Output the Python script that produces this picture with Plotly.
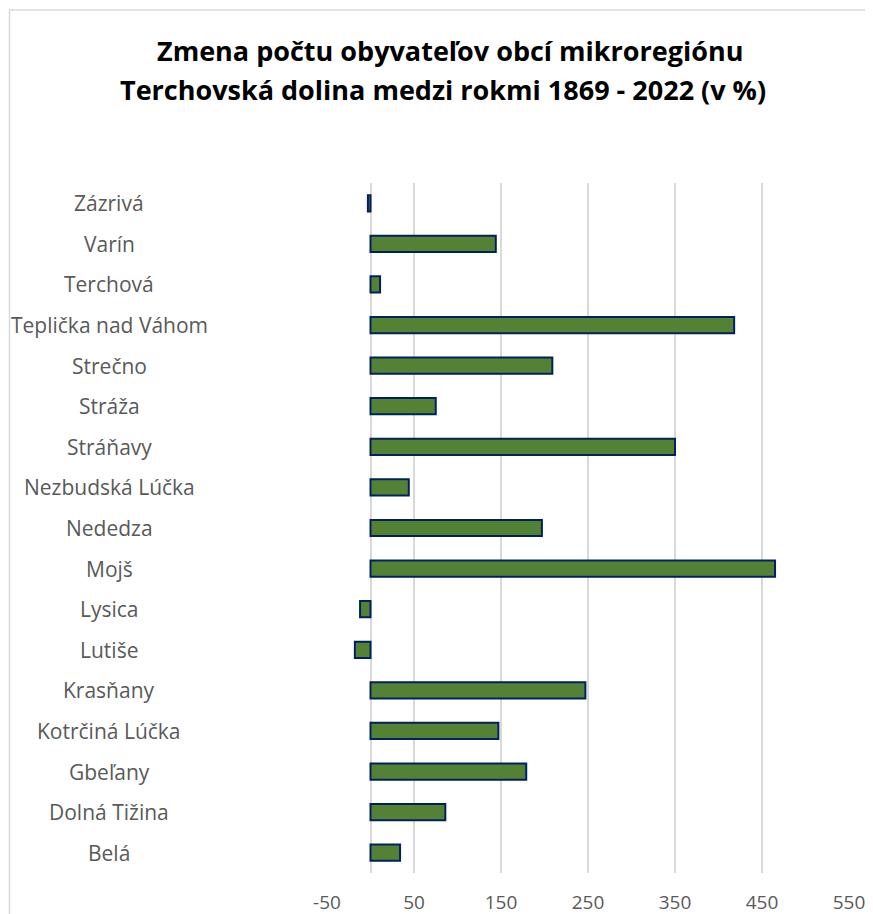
import plotly.graph_objects as go

categories = ["Zázrivá", "Varín", "Terchová", "Teplička nad Váhom", "Strečno", "Stráža",
              "Stráňavy", "Nezbudská Lúčka", "Nededza", "Mojš", "Lysica", "Lutiše",
              "Krasňany", "Kotrčiná Lúčka", "Gbeľany", "Dolná Tižina", "Belá"]
values = [-3, 144, 11, 418, 209, 75, 350, 44, 197, 465, -12, -18, 247, 147, 179, 86, 34]
tick_vals = [-50, 50, 150, 250, 350, 450, 550]
tick_text = ["-50", "50", "150", "250", "350", "450", "550"]
title_lines = ["Zmena počtu obyvateľov obcí mikroregiónu",
               "Terchovská dolina medzi rokmi 1869 - 2022 (v %)"]

OFF = 8  # page body margin
W, H = 873, 914
ml, mr, mt, mb = 327 - OFF, 873 - (849 - OFF), 183 - OFF, 914 - (873 - OFF)
pw, ph = W - ml - mr, H - mt - mb

def px_x(p):
    return (p - OFF - ml) / pw

def px_y(p):
    return (H - mb - (p - OFF)) / ph

fig = go.Figure(go.Bar(
    x=values, y=categories, orientation="h",
    marker=dict(color="#548235", line=dict(color="#002060", width=2)),
))

annotations = [dict(x=px_x(109), y=c, xref="paper", yref="y", text=c, showarrow=False,
                    xanchor="center", yanchor="middle",
                    font=dict(family="Open Sans", size=21, color="#595959")) for c in categories]
annotations.append(dict(x=px_x(450), y=px_y(50), xref="paper", yref="paper", text="<b>" + title_lines[0] + "</b>",
                        showarrow=False, xanchor="center", yanchor="middle",
                        font=dict(family="Open Sans", size=27, color="#000000")))
annotations.append(dict(x=px_x(443), y=px_y(90), xref="paper", yref="paper", text="<b>" + title_lines[1] + "</b>",
                        showarrow=False, xanchor="center", yanchor="middle",
                        font=dict(family="Open Sans", size=27, color="#000000")))

fig.update_layout(
    width=W, height=H,
    margin=dict(l=ml, r=mr, t=mt, b=mb, autoexpand=False),
    paper_bgcolor="white", plot_bgcolor="white",
    bargap=0.6,
    showlegend=False,
    xaxis=dict(range=[-50, 550], tickvals=tick_vals, ticktext=tick_text, showgrid=True,
               gridcolor="#d9d9d9", gridwidth=1.5, automargin=False,
               zeroline=True, zerolinecolor="#d9d9d9", zerolinewidth=1.5,
               ticklabelstandoff=16,
               tickfont=dict(family="Open Sans", size=19, color="#595959"), showline=False, ticks=""),
    yaxis=dict(autorange="reversed", showticklabels=False, showgrid=False, zeroline=False, automargin=False),
    annotations=annotations,
    shapes=[dict(type="rect", xref="paper", yref="paper", x0=px_x(9.5), x1=px_x(890),
                 y0=px_y(930), y1=px_y(10), line=dict(color="#d9d9d9", width=1.5))],
)

fig.write_html("out.html")
